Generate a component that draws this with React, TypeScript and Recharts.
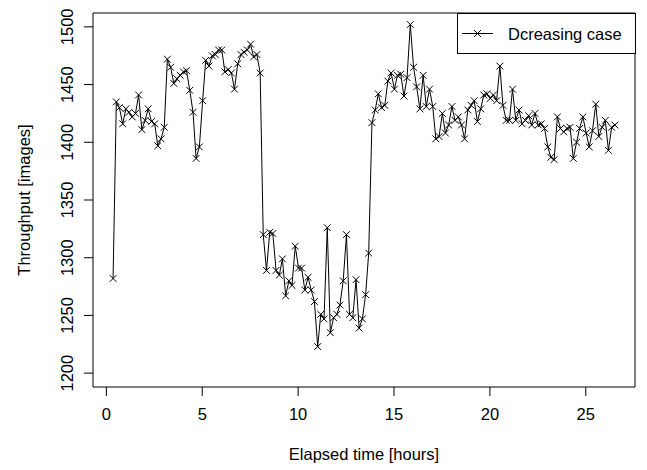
import { LineChart, Line, XAxis, YAxis, ReferenceArea, Legend, Label } from 'recharts'

// elapsed time of each sample, hours (one sample every 10 min)
const hours = [
  0.35, 0.52, 0.68, 0.85,
  1.02, 1.18, 1.35, 1.52, 1.68, 1.85,
  2.02, 2.18, 2.35, 2.52, 2.68, 2.85,
  3.02, 3.18, 3.35, 3.52, 3.68, 3.85,
  4.02, 4.18, 4.35, 4.52, 4.68, 4.85,
  5.02, 5.18, 5.35, 5.52, 5.68, 5.85,
  6.02, 6.18, 6.35, 6.52, 6.68, 6.85,
  7.02, 7.18, 7.35, 7.52, 7.68, 7.85,
  8.02, 8.18, 8.35, 8.52, 8.68, 8.85,
  9.02, 9.18, 9.35, 9.52, 9.68, 9.85,
  10.02, 10.18, 10.35, 10.52, 10.68, 10.85,
  11.02, 11.18, 11.35, 11.52, 11.68, 11.85,
  12.02, 12.18, 12.35, 12.52, 12.68, 12.85,
  13.02, 13.18, 13.35, 13.52, 13.68, 13.85,
  14.02, 14.18, 14.35, 14.52, 14.68, 14.85,
  15.02, 15.18, 15.35, 15.52, 15.68, 15.85,
  16.02, 16.18, 16.35, 16.52, 16.68, 16.85,
  17.02, 17.18, 17.35, 17.52, 17.68, 17.85,
  18.02, 18.18, 18.35, 18.52, 18.68, 18.85,
  19.02, 19.18, 19.35, 19.52, 19.68, 19.85,
  20.02, 20.18, 20.35, 20.52, 20.68, 20.85,
  21.02, 21.18, 21.35, 21.52, 21.68, 21.85,
  22.02, 22.18, 22.35, 22.52, 22.68, 22.85,
  23.02, 23.18, 23.35, 23.52, 23.68, 23.85,
  24.02, 24.18, 24.35, 24.52, 24.68, 24.85,
  25.02, 25.18, 25.35, 25.52, 25.68, 25.85,
  26.02, 26.18, 26.35, 26.52,
]

// throughput [images], decreasing case
const throughput = [
  1282, 1435, 1430, 1416,
  1429, 1426, 1422, 1425, 1441, 1411,
  1419, 1429, 1418, 1416, 1397, 1403,
  1413, 1472, 1465, 1451, 1455, 1458,
  1461, 1462, 1445, 1426, 1386, 1396,
  1436, 1471, 1466, 1475, 1476, 1480,
  1480, 1461, 1463, 1460, 1446, 1468,
  1476, 1478, 1480, 1485, 1474, 1476,
  1460, 1320, 1289, 1322, 1321, 1289,
  1285, 1299, 1267, 1280, 1276, 1310,
  1291, 1291, 1272, 1283, 1272, 1262,
  1223, 1251, 1247, 1326, 1235, 1248,
  1251, 1259, 1280, 1320, 1251, 1248,
  1281, 1239, 1247, 1268, 1304, 1417,
  1428, 1442, 1430, 1432, 1453, 1460,
  1446, 1458, 1459, 1440, 1456, 1502,
  1465, 1448, 1429, 1458, 1431, 1446,
  1431, 1403, 1405, 1425, 1408, 1415,
  1431, 1419, 1422, 1415, 1403, 1428,
  1432, 1436, 1418, 1429, 1441, 1442,
  1438, 1441, 1436, 1466, 1432, 1419,
  1419, 1446, 1419, 1428, 1416, 1419,
  1423, 1415, 1425, 1415, 1416, 1412,
  1396, 1387, 1385, 1422, 1412, 1409,
  1412, 1413, 1386, 1400, 1412, 1422,
  1408, 1396, 1410, 1433, 1405, 1413,
  1419, 1393, 1413, 1415,
]

const xTicks = [0, 5, 10, 15, 20, 25]
const yTicks = [1200, 1250, 1300, 1350, 1400, 1450, 1500]

const X_DOMAIN: [number, number] = [-0.697, 27.567]
const Y_DOMAIN: [number, number] = [1188, 1512]

const FONT = '"Liberation Sans", Arial, Helvetica, sans-serif'
const FS = 16.5

const data = hours.map((h, i) => ({ h, v: throughput[i] }))

// R pch = 4
const Cross = (props: any) => {
  const { cx, cy } = props
  if (cx == null || cy == null) return <g key={props.key} />
  const r = 3.4
  return (
    <g key={props.key} stroke="#000" strokeWidth={1}>
      <line x1={cx - r} y1={cy - r} x2={cx + r} y2={cy + r} />
      <line x1={cx - r} y1={cy + r} x2={cx + r} y2={cy - r} />
    </g>
  )
}

const XTick = ({ x, payload }: any) => (
  <text x={x} y={420} textAnchor="middle" fontFamily={FONT} fontSize={FS} fill="#000">{payload.value}</text>
)

const YTick = ({ y, payload }: any) => (
  <text x={73} y={y} transform={`rotate(-90, 73, ${y})`} textAnchor="middle" fontFamily={FONT} fontSize={FS} fill="#000">
    {payload.value}
  </text>
)

const LegendBox = () => (
  <svg width={179} height={41} style={{ display: 'block' }}>
    <rect x={0.5} y={0.5} width={178} height={40} fill="#fff" stroke="#000" />
    <line x1={5} y1={20.5} x2={36} y2={20.5} stroke="#000" />
    <line x1={17} y1={17} x2={24} y2={24} stroke="#000" />
    <line x1={17} y1={24} x2={24} y2={17} stroke="#000" />
    <text x={51} y={26.5} fontFamily={FONT} fontSize={FS} fill="#000">Dcreasing case</text>
  </svg>
)

export default function App() {
  return (
    <div style={{ position: 'absolute', left: 0, top: 0, width: 647, height: 470, background: '#fff' }}>
      <LineChart width={647} height={470} data={data} margin={{ top: 13, right: 12, bottom: 0, left: 0 }}>
        <XAxis
          dataKey="h" type="number" domain={X_DOMAIN} ticks={xTicks} allowDataOverflow
          height={83} tickSize={9} axisLine={false} tickLine={{ stroke: '#000' }} tick={<XTick />}
          label={<Label content={() => (
            <text x={364} y={460} textAnchor="middle" fontFamily={FONT} fontSize={FS} fill="#000">Elapsed time [hours]</text>
          )} />}
        />
        <YAxis
          type="number" domain={Y_DOMAIN} ticks={yTicks} allowDataOverflow
          width={93} tickSize={9} axisLine={false} tickLine={{ stroke: '#000' }} tick={<YTick />}
          label={<Label content={() => (
            <text x={30} y={200} transform="rotate(-90, 30, 200)" textAnchor="middle" fontFamily={FONT} fontSize={FS} fill="#000">
              Throughput [images]
            </text>
          )} />}
        />
        <ReferenceArea x1={X_DOMAIN[0]} x2={X_DOMAIN[1]} y1={Y_DOMAIN[0]} y2={Y_DOMAIN[1]} fill="none" stroke="#000" ifOverflow="visible" />
        <Line type="linear" dataKey="v" stroke="#000" strokeWidth={1} dot={Cross} activeDot={false} isAnimationActive={false} />
        <Legend
          layout="vertical" align="center" verticalAlign="middle"
          wrapperStyle={{ position: 'absolute', left: 457, top: 13, width: 179, height: 41 }}
          content={() => <LegendBox />}
        />
      </LineChart>
    </div>
  )
}
